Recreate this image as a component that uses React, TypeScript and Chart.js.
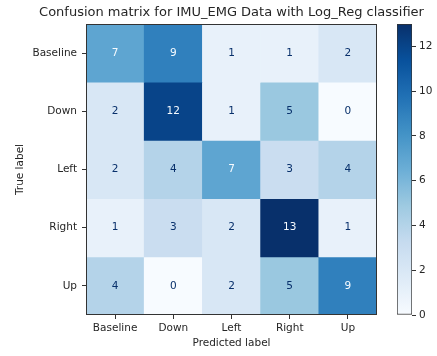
import React, { useEffect, useRef } from 'react';
import { Chart, registerables } from 'chart.js';

Chart.register(...registerables);

// Confusion matrix counts: rows = true label, columns = predicted label
const predictedLabels = ['Baseline', 'Down', 'Left', 'Right', 'Up'];
const trueLabels = ['Baseline', 'Down', 'Left', 'Right', 'Up'];
const rowBaseline = [7, 9, 1, 1, 2];
const rowDown = [2, 12, 1, 5, 0];
const rowLeft = [2, 4, 7, 3, 4];
const rowRight = [1, 3, 2, 13, 1];
const rowUp = [4, 0, 2, 5, 9];
const countRows = [rowBaseline, rowDown, rowLeft, rowRight, rowUp];
const colorbarTicks = [0, 2, 4, 6, 8, 10, 12];

const titleText = 'Confusion matrix for IMU_EMG Data with Log_Reg classifier';
const FONT = 'DejaVu Sans';
const TEXT_COLOR = '#262626';
const FRAME_COLOR = '#333333';

const allCounts = countRows.flat();
const vmin = Math.min(...allCounts);
const vmax = Math.max(...allCounts);

// "Blues" colour ramp
const BLUES = [
  '#f7fbff', '#deebf7', '#c6dbef', '#9ecae1', '#6baed6',
  '#4292c6', '#2171b5', '#08519c', '#08306b',
];

function hexToRgb(h: string) {
  const n = parseInt(h.slice(1), 16);
  return [(n >> 16) & 255, (n >> 8) & 255, n & 255];
}

function blues(t: number) {
  const c = Math.max(0, Math.min(1, t)) * (BLUES.length - 1);
  const i = Math.min(Math.floor(c), BLUES.length - 2);
  const f = c - i;
  const a = hexToRgb(BLUES[i]);
  const b = hexToRgb(BLUES[i + 1]);
  const m = a.map((v, k) => Math.round(v + (b[k] - v) * f));
  return `rgb(${m[0]},${m[1]},${m[2]})`;
}

const colorFor = (v: number) => blues((v - vmin) / (vmax - vmin));
const threshold = (vmin + vmax) / 2;

// Outline around the matrix plot area
const framePlugin = {
  id: 'frame',
  afterDraw(chart: any) {
    const { ctx, chartArea: a } = chart;
    ctx.save();
    ctx.strokeStyle = FRAME_COLOR;
    ctx.lineWidth = 1;
    ctx.strokeRect(Math.round(a.left) + 0.5, Math.round(a.top) + 0.5,
      Math.round(a.right - a.left) - 1, Math.round(a.bottom - a.top) - 1);
    ctx.restore();
  },
};

// Count labels at the centre of each cell
const cellTextPlugin = {
  id: 'cellText',
  afterDatasetsDraw(chart: any) {
    const { ctx } = chart;
    ctx.save();
    ctx.font = `10.5px "${FONT}"`;
    ctx.textAlign = 'center';
    ctx.textBaseline = 'middle';
    countRows.forEach((row, r) => {
      const meta = chart.getDatasetMeta(r);
      row.forEach((v, c) => {
        const el = meta.data[c];
        if (!el) return;
        const cy = (el.y + el.base) / 2;
        ctx.fillStyle = v > threshold ? BLUES[0] : BLUES[BLUES.length - 1];
        ctx.fillText(String(v), el.x, cy);
      });
    });
    ctx.restore();
  },
};

export default function App() {
  const mainRef = useRef<HTMLCanvasElement>(null);
  const barRef = useRef<HTMLCanvasElement>(null);

  useEffect(() => {
    document.body.style.margin = '0';
    const font = { family: FONT, size: 10.5 };

    const main = new Chart(mainRef.current!, {
      type: 'bar',
      data: {
        labels: predictedLabels,
        datasets: countRows.map((row, r) => ({
          label: trueLabels[r],
          data: row.map(() => 1),
          backgroundColor: row.map(colorFor),
          borderWidth: 0,
          barPercentage: 1,
          categoryPercentage: 1,
        })),
      },
      options: {
        animation: false,
        responsive: false,
        // title box spans 26..437 so it centres over the matrix
        layout: { padding: { left: 26, right: 0, top: 0, bottom: 0 } },
        plugins: {
          legend: { display: false },
          tooltip: { enabled: false },
          title: {
            display: true,
            text: titleText,
            color: TEXT_COLOR,
            font: { family: FONT, size: 13, weight: 'normal' },
            padding: { top: 5, bottom: 3.4 },
          },
        },
        scales: {
          x: {
            stacked: true,
            grid: {
              offset: false,
              drawOnChartArea: false,
              drawTicks: true,
              tickLength: 4,
              color: FRAME_COLOR,
            },
            border: { display: false },
            ticks: { color: TEXT_COLOR, font, padding: 3, maxRotation: 0 },
            title: {
              display: true,
              text: 'Predicted label',
              color: TEXT_COLOR,
              font,
              padding: { top: 0, bottom: 6.7 },
            },
            afterFit: (s: any) => { s.height = 41; },
          },
          y: {
            type: 'linear',
            stacked: true,
            min: 0,
            max: trueLabels.length,
            reverse: true,
            grid: {
              drawOnChartArea: false,
              drawTicks: true,
              tickLength: 4,
              color: FRAME_COLOR,
            },
            border: { display: false },
            afterBuildTicks: (s: any) => {
              s.ticks = trueLabels.map((_, i) => ({ value: i + 0.5 }));
            },
            ticks: {
              color: TEXT_COLOR,
              font,
              padding: 5,
              callback: (_v: any, i: number) => trueLabels[i],
            },
            title: {
              display: true,
              text: 'True label',
              color: TEXT_COLOR,
              font,
              padding: { top: -12, bottom: 0 },
            },
            afterFit: (s: any) => { s.width = 60; },
          },
          // empty strip on the right that leaves room for the colour bar
          side: {
            type: 'linear',
            position: 'right',
            display: true,
            grid: { display: false },
            border: { display: false },
            ticks: { display: false },
            afterFit: (s: any) => { s.width = 60; },
          },
        },
      },
      plugins: [cellTextPlugin, framePlugin],
    } as any);

    const bar = new Chart(barRef.current!, {
      type: 'bar',
      data: {
        labels: [''],
        datasets: [{
          data: [[vmin, vmax]],
          backgroundColor: (ctx: any) => {
            const a = ctx.chart.chartArea;
            if (!a) return BLUES[4];
            const g = ctx.chart.ctx.createLinearGradient(0, a.bottom, 0, a.top);
            for (let i = 0; i <= 32; i++) g.addColorStop(i / 32, blues(i / 32));
            return g;
          },
          borderColor: FRAME_COLOR,
          borderWidth: 1,
          borderSkipped: false,
          barPercentage: 1,
          categoryPercentage: 1,
        }],
      },
      options: {
        animation: false,
        responsive: false,
        layout: { padding: { left: 20, right: 0, top: 24, bottom: 41 } },
        plugins: { legend: { display: false }, tooltip: { enabled: false } },
        scales: {
          x: { display: false },
          y: {
            position: 'right',
            min: vmin,
            max: vmax,
            grid: {
              drawOnChartArea: false,
              drawTicks: true,
              tickLength: 4,
              color: FRAME_COLOR,
            },
            border: { display: false },
            afterBuildTicks: (s: any) => {
              s.ticks = colorbarTicks.map((value) => ({ value }));
            },
            ticks: { color: TEXT_COLOR, font, padding: 3 },
            afterFit: (s: any) => { s.width = 25; },
          },
        },
      },
    } as any);

    return () => {
      main.destroy();
      bar.destroy();
    };
  }, []);

  return (
    <div style={{ position: 'relative', width: 437, height: 356 }}>
      <canvas
        ref={mainRef}
        width={437}
        height={356}
        style={{ position: 'absolute', left: 0, top: 0, width: 437, height: 356 }}
      />
      <canvas
        ref={barRef}
        width={60}
        height={356}
        style={{ position: 'absolute', left: 377, top: 0, width: 60, height: 356 }}
      />
    </div>
  );
}
